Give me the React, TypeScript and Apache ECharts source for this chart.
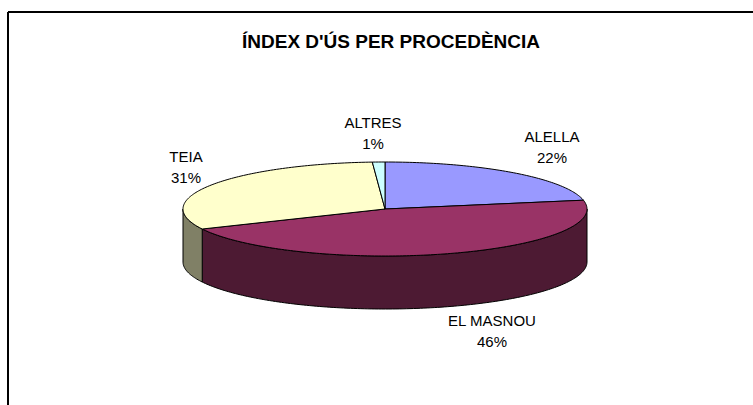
import React, { useEffect, useRef } from 'react';
import * as echarts from 'echarts';

const categories = ['ALELLA', 'EL MASNOU', 'TEIA', 'ALTRES'];
const values = [22, 46, 31, 1];
const titleText = "ÍNDEX D'ÚS PER PROCEDÈNCIA";

const topColors = ['#9999FF', '#993366', '#FFFFCC', '#CCFFFF'];
const sideColors = ['#5C5C99', '#4D1A33', '#808066', '#7A9999'];
const labelCenters: number[][] = [
  [552, 147],
  [492, 331],
  [186, 167],
  [373, 133],
];

const CX = 385;
const CY = 209;
const RX = 202;
const RY = 47;
const DEPTH = 53;
const FONT = '"Liberation Sans", Arial, sans-serif';

function pt(a: number, dy: number): number[] {
  return [CX + RX * Math.sin(a), CY - RY * Math.cos(a) + dy];
}

function arc(a0: number, a1: number, dy: number): number[][] {
  const pts: number[][] = [];
  const n = Math.max(2, Math.ceil(Math.abs(a1 - a0) / (Math.PI / 180)));
  for (let k = 0; k <= n; k++) {
    pts.push(pt(a0 + ((a1 - a0) * k) / n, dy));
  }
  return pts;
}

export default function App() {
  const ref = useRef<HTMLDivElement>(null);
  useEffect(() => {
    if (!ref.current) return;
    const chart = echarts.init(ref.current, undefined, { renderer: 'svg' });
    const total = values.reduce((s, v) => s + v, 0);

    const renderItem = (params: any, api: any) => {
      const i = params.dataIndex;
      const v = api.value(0);
      let start = 0;
      for (let j = 0; j < i; j++) start += values[j];
      const a0 = (start / total) * Math.PI * 2;
      const a1 = ((start + v) / total) * Math.PI * 2;
      const children: any[] = [];
      const s = Math.max(a0, Math.PI / 2);
      const e = Math.min(a1, (Math.PI * 3) / 2);
      if (e > s) {
        const topArc = arc(s, e, 0);
        const botArc = arc(e, s, DEPTH);
        children.push({
          type: 'polygon',
          shape: { points: topArc.concat(botArc) },
          style: { fill: sideColors[i], stroke: '#000', lineWidth: 1 },
        });
      }
      children.push({
        type: 'polygon',
        shape: { points: [[CX, CY]].concat(arc(a0, a1, 0)) },
        style: { fill: topColors[i], stroke: '#000', lineWidth: 1, lineJoin: 'round' },
      });
      const pct = Math.round((v / total) * 100);
      children.push({
        type: 'text',
        style: {
          text: categories[i] + '\n' + pct + '%',
          x: labelCenters[i][0],
          y: labelCenters[i][1],
          align: 'center',
          verticalAlign: 'middle',
          fontSize: 15,
          fontFamily: FONT,
          lineHeight: 21,
          fill: '#000',
        },
      });
      return { type: 'group', children };
    };

    chart.setOption({
      animation: false,
      backgroundColor: '#ffffff',
      title: {
        text: titleText,
        left: 386,
        top: 27,
        textAlign: 'center',
        textStyle: { fontSize: 19, fontWeight: 'bold', fontFamily: FONT, color: '#000' },
      },
      graphic: [
        { type: 'line', shape: { x1: 8, y1: 12, x2: 753, y2: 12 }, style: { stroke: '#000', lineWidth: 2 } },
        { type: 'line', shape: { x1: 8, y1: 12, x2: 8, y2: 405 }, style: { stroke: '#000', lineWidth: 2 } },
      ],
      series: [
        {
          type: 'custom',
          coordinateSystem: 'none',
          renderItem,
          data: values.map((v, i) => ({ value: v, name: categories[i] })),
        },
      ],
    });
    return () => chart.dispose();
  }, []);
  return <div ref={ref} style={{ position: 'fixed', left: 0, top: 0, width: 753, height: 405 }} />;
}
